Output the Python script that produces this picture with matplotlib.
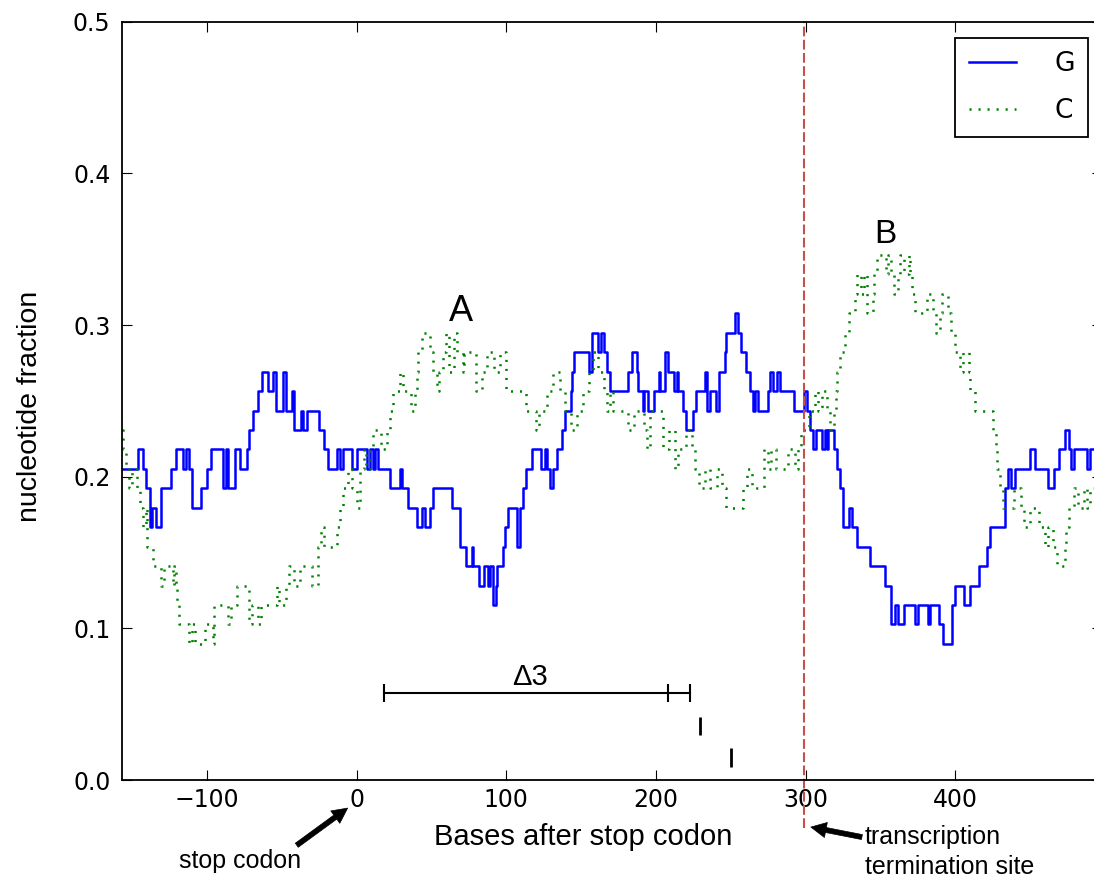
import matplotlib
matplotlib.use("Agg")
import matplotlib.pyplot as plt
import numpy as np

# sliding window size: fractions are counts / WINDOW
WINDOW = 78
X_MAX = 498

# (base position where the value changes, G count in window)
g_steps = [(-157, 16), (-146, 17), (-143, 16), (-141, 15), (-138, 13), (-137, 14), (-134, 13), (-131, 15),
           (-124, 16), (-121, 17), (-116, 16), (-114, 17), (-112, 16), (-110, 14), (-104, 15), (-100, 16),
           (-97, 17), (-89, 15), (-87, 17), (-86, 15), (-81, 17), (-78, 16), (-73, 17), (-72, 18), (-69, 19),
           (-66, 20), (-63, 21), (-59, 20), (-56, 21), (-54, 19), (-49, 21), (-47, 19), (-43, 20), (-42, 18),
           (-37, 19), (-36, 18), (-33, 19), (-25, 18), (-22, 17), (-19, 16), (-13, 17), (-11, 16), (-9, 17),
           (-3, 16), (0, 17), (7, 16), (9, 17), (11, 16), (12, 17), (14, 16), (22, 15), (29, 16), (30, 15),
           (34, 14), (40, 13), (44, 14), (46, 13), (49, 14), (51, 15), (64, 14), (69, 12), (73, 11), (77, 12),
           (78, 11), (82, 10), (85, 11), (88, 10), (89, 11), (91, 9), (93, 10), (94, 11), (98, 12), (99, 13),
           (101, 14), (107, 12), (109, 14), (111, 15), (113, 16), (117, 17), (123, 16), (126, 17), (127, 16),
           (129, 15), (131, 16), (134, 17), (137, 18), (139, 19), (143, 20), (144, 21), (145, 22), (155, 21),
           (157, 23), (161, 22), (163, 23), (165, 22), (167, 21), (169, 20), (181, 21), (184, 22), (187, 21),
           (188, 20), (191, 19), (192, 20), (195, 19), (199, 20), (202, 21), (203, 20), (206, 22), (208, 21),
           (212, 20), (214, 21), (215, 20), (218, 19), (220, 18), (225, 19), (227, 20), (233, 21), (234, 19),
           (236, 20), (240, 19), (242, 21), (246, 22), (247, 23), (253, 24), (255, 23), (257, 22), (260, 21),
           (263, 20), (265, 19), (266, 20), (268, 19), (275, 20), (276, 21), (278, 20), (281, 21), (283, 20),
           (292, 19), (299, 20), (301, 19), (303, 18), (305, 17), (307, 18), (311, 17), (313, 18), (314, 17),
           (315, 18), (319, 17), (321, 16), (323, 15), (325, 13), (329, 14), (331, 13), (334, 12), (343, 11),
           (353, 10), (357, 8), (360, 9), (362, 8), (366, 9), (373, 8), (375, 9), (382, 8), (383, 9), (389, 8),
           (392, 7), (398, 9), (400, 10), (406, 9), (410, 10), (416, 11), (421, 12), (423, 13), (433, 15),
           (435, 16), (437, 15), (440, 16), (450, 17), (453, 16), (462, 15), (466, 16), (469, 17), (473, 18),
           (476, 17), (477, 16), (479, 17), (488, 16), (490, 17)]

# same for C
c_steps = [(-157, 18), (-156, 17), (-154, 16), (-152, 15), (-150, 16), (-147, 15), (-145, 14), (-143, 13),
           (-141, 14), (-140, 12), (-136, 11), (-131, 10), (-129, 11), (-123, 10), (-122, 11), (-121, 10),
           (-120, 9), (-119, 8), (-112, 7), (-110, 8), (-108, 7), (-101, 8), (-96, 7), (-95, 9), (-86, 8),
           (-84, 9), (-80, 10), (-72, 8), (-70, 9), (-66, 8), (-64, 9), (-53, 10), (-52, 9), (-47, 10),
           (-45, 11), (-42, 10), (-38, 11), (-30, 10), (-26, 12), (-24, 13), (-22, 12), (-13, 13), (-11, 14),
           (-9, 15), (-6, 16), (-3, 15), (0, 14), (2, 16), (5, 17), (6, 16), (9, 17), (11, 18), (16, 17),
           (20, 18), (22, 19), (24, 20), (29, 21), (31, 20), (36, 19), (39, 20), (40, 21), (41, 22), (44, 23),
           (49, 22), (51, 21), (54, 20), (55, 21), (58, 22), (60, 23), (62, 21), (65, 23), (67, 22), (71, 21),
           (72, 22), (80, 20), (84, 21), (87, 22), (92, 21), (96, 22), (100, 20), (113, 19), (120, 18),
           (122, 19), (127, 20), (131, 21), (136, 20), (139, 19), (143, 18), (147, 19), (151, 20), (155, 21),
           (158, 22), (161, 21), (165, 20), (167, 19), (169, 20), (171, 19), (181, 18), (185, 19), (192, 18),
           (194, 17), (196, 19), (205, 17), (209, 18), (213, 16), (215, 17), (220, 18), (224, 17), (226, 16),
           (229, 15), (233, 16), (236, 15), (241, 16), (244, 15), (247, 14), (258, 15), (261, 16), (264, 15),
           (272, 17), (275, 16), (277, 17), (280, 16), (288, 17), (293, 16), (295, 17), (297, 18), (302, 19),
           (306, 20), (308, 19), (311, 20), (314, 19), (316, 18), (319, 19), (320, 20), (321, 21), (323, 22),
           (326, 23), (329, 24), (333, 25), (334, 26), (337, 25), (339, 26), (341, 24), (345, 25), (346, 26),
           (348, 27), (354, 26), (355, 27), (357, 26), (359, 25), (362, 26), (363, 27), (366, 26), (369, 27),
           (370, 26), (371, 25), (373, 24), (381, 25), (385, 24), (387, 23), (390, 24), (391, 25), (395, 24),
           (397, 23), (400, 22), (403, 21), (405, 22), (409, 21), (410, 20), (413, 19), (425, 18), (427, 17),
           (428, 16), (430, 15), (432, 14), (439, 15), (444, 14), (446, 13), (450, 14), (456, 13), (460, 12),
           (462, 13), (465, 12), (468, 11), (473, 12), (474, 13), (476, 14), (479, 15), (482, 14), (486, 15),
           (488, 14), (490, 15)]

x_ticks = [-100, 0, 100, 200, 300, 400]
y_ticks = [0.0, 0.1, 0.2, 0.3, 0.4, 0.5]

term_site = 299
delta3_bar = (18, 222.6, 0.0574)
delta3_caps = [18, 208, 222.6]
small_marks = [(229.3, 0.0297, 0.0416), (250, 0.0086, 0.0211)]


def to_series(steps):
    xs = [s[0] for s in steps] + [X_MAX]
    ys = [s[1] / WINDOW for s in steps]
    ys = ys + [ys[-1]]
    return np.array(xs), np.array(ys)


plt.rcParams['lines.scale_dashes'] = False
ann_font = 'Liberation Sans'

fig = plt.figure(figsize=(10.94, 8.85), dpi=100)
ax = fig.add_axes([0.1112, 0.1186, 0.8961, 0.8569])

gx, gy = to_series(g_steps)
cx, cy = to_series(c_steps)
ax.plot(gx, gy, color='#0000ff', lw=1.8, drawstyle='steps-post', label='G')
ax.plot(cx, cy, color='#008000', lw=1.8, ls=(0, (1.5, 5)), drawstyle='steps-post', label='C')

ax.axvline(term_site, ymin=-0.063, ymax=1, color='#c8504a', lw=1.5, ls=(0, (7, 2.5)), clip_on=False)

ax.set_xlim(-157, X_MAX)
ax.set_ylim(0, 0.5)
ax.set_xticks(x_ticks)
ax.set_yticks(y_ticks)
ax.tick_params(direction='in', top=True, right=True, length=7, width=0.8, labelsize=17)
ax.tick_params(axis='x', pad=6)
ax.tick_params(axis='y', pad=8)
for sp in ax.spines.values():
    sp.set_linewidth(1.3)

leg = ax.legend(loc='upper right', bbox_to_anchor=(0.9857, 0.9785), borderaxespad=0, fontsize=19,
                fancybox=False, edgecolor='k', framealpha=1, borderpad=0.5, handlelength=1.8,
                handletextpad=1.45, labelspacing=0.78)
leg.get_frame().set_linewidth(1.3)

# delta 3 interval and marks
bx0, bx1, by = delta3_bar
ax.plot([bx0, bx1], [by, by], color='k', lw=1.5)
ax.vlines(delta3_caps, by - 0.006, by + 0.006, colors='k', lw=1.5)
for mx, m0, m1 in small_marks:
    ax.vlines(mx, m0, m1, colors='k', lw=2)
ax.text(115.5, 0.068, '\u03943', fontsize=21, family=ann_font, ha='center', va='center')

ax.text(70, 0.309, 'A', fontsize=26, family=ann_font, ha='center', va='center')
ax.text(353.5, 0.36, 'B', fontsize=24, family=ann_font, ha='center', va='center')

arrow = dict(arrowstyle='simple,head_length=0.55,head_width=0.55,tail_width=0.18',
             mutation_scale=20, fc='k', ec='k', lw=0.5, shrinkA=0, shrinkB=0)
ax.annotate('', xy=(-6, -0.0185), xytext=(-40, -0.043), arrowprops=arrow, annotation_clip=False)
ax.annotate('', xy=(303.5, -0.031), xytext=(337.6, -0.0376), arrowprops=arrow, annotation_clip=False)

fig.text(0.2194, 0.0271, 'stop codon', fontsize=18, family=ann_font, ha='center', va='center')
fig.text(0.7907, 0.0373, 'transcription\ntermination site', fontsize=18, family=ann_font,
         ha='left', va='center', linespacing=1.35)
fig.text(0.5329, 0.0542, 'Bases after stop codon', fontsize=21, family=ann_font, ha='center', va='center')
fig.text(0.0274, 0.5412, 'nucleotide fraction', fontsize=20.5, family=ann_font, rotation=90,
         ha='center', va='center')

fig.savefig('out.png', dpi=100)
